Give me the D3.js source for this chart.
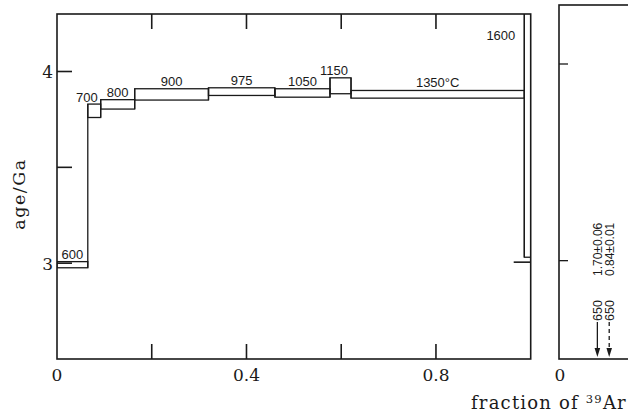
<!DOCTYPE html>
<html>
<head>
<meta charset="utf-8">
<script src="https://cdn.jsdelivr.net/npm/d3@7"></script>
<style>
	body { margin: 0; background: #fff; }
	.step-label { font-family: "Liberation Sans", Arial, sans-serif; font-size: 13px; fill: #1a1a1a; }
	.tick-label { font-family: "DejaVu Serif", serif; font-size: 17px; fill: #1a1a1a; }
	.axis-title { font-family: "DejaVu Serif", serif; fill: #1a1a1a; }
</style>
</head>
<body>
<div id="wrapper"></div>
<script>

// 1. Data

const stepTemps = ["600", "700", "800", "900", "975", "1050", "1150", "1350°C", "1600"];
const stepEdges = [0, 0.065, 0.0922, 0.164, 0.3198, 0.460, 0.5763, 0.6207, 0.9865, 1.0];
const ageHigh = [3.008, 3.830, 3.853, 3.910, 3.915, 3.910, 3.967, 3.901, 4.45];
const ageLow  = [2.976, 3.760, 3.804, 3.851, 3.875, 3.866, 3.884, 3.861, 3.031];

const xTicks = [0, 0.2, 0.4, 0.6, 0.8];
const xTickLabels = ["0", "", "0.4", "", "0.8"];
const yTicks = [3, 3.5, 4];
const yTickLabels = ["3", "", "4"];

// second panel: only the release markers are visible
const arrowTemps = ["650", "650"];
const arrowFractions = [0.081, 0.106];
const arrowAges = ["1.70±0.06", "0.84±0.01"];
const arrowDashed = [false, true];

function drawChart () {

	// 2. Dimensions

	let dimensions = {
		width: 628,
		height: 415,
		panel: { left: 57, right: 530.7, top: 14, bottom: 359 },
		panel2: { left: 559, top: 5, bottom: 359 }
	};

	const xScale = d3.scaleLinear()
						.domain([0, 1])
						.range([dimensions.panel.left, dimensions.panel.right]);

	const yScale = d3.scaleLinear()
						.domain([2.5, 4.3])
						.range([dimensions.panel.bottom, dimensions.panel.top]);

	const pxPerUnit = dimensions.panel.right - dimensions.panel.left;
	const x2Scale = d3.scaleLinear()
						.domain([0, 1])
						.range([dimensions.panel2.left, dimensions.panel2.left + pxPerUnit]);

	const y2Scale = d3.scaleLinear()
						.domain([2.5, 4.3])
						.range([dimensions.panel2.bottom, dimensions.panel2.top]);

	const wrapper = d3.select("#wrapper")
						.append("svg")
						.attr("width", dimensions.width)
						.attr("height", dimensions.height);

	const ink = "#1a1a1a";

	const defs = wrapper.append("defs");
	defs.append("clipPath")
		.attr("id", "panel-clip")
		.append("rect")
		.attr("x", dimensions.panel.left)
		.attr("y", dimensions.panel.top)
		.attr("width", dimensions.panel.right - dimensions.panel.left)
		.attr("height", dimensions.panel.bottom - dimensions.panel.top);

	// 3. Steps of the age spectrum

	const steps = stepTemps.map((t, i) => ({
		temp: t,
		x0: stepEdges[i],
		x1: stepEdges[i + 1],
		hi: ageHigh[i],
		lo: ageLow[i]
	}));

	const plot = wrapper.append("g")
						.attr("clip-path", "url(#panel-clip)");

	plot.selectAll(".step")
		.data(steps)
		.join("rect")
		.attr("class", "step")
		.attr("x", d => xScale(d.x0))
		.attr("y", d => yScale(d.hi))
		.attr("width", d => xScale(d.x1) - xScale(d.x0))
		.attr("height", d => yScale(d.lo) - yScale(d.hi))
		.attr("fill", "none")
		.attr("stroke", ink)
		.attr("stroke-width", 1.3);

	// vertical joins between neighbouring steps
	const joins = d3.range(1, steps.length).map(i => ({
		x: steps[i].x0,
		top: d3.max([steps[i - 1].hi, steps[i].hi]),
		bottom: d3.min([steps[i - 1].lo, steps[i].lo])
	}));

	plot.selectAll(".join")
		.data(joins)
		.join("line")
		.attr("class", "join")
		.attr("x1", d => xScale(d.x))
		.attr("x2", d => xScale(d.x))
		.attr("y1", d => yScale(d.top))
		.attr("y2", d => yScale(d.bottom))
		.attr("stroke", ink)
		.attr("stroke-width", 1.3);

	// temperature labels
	const labels = wrapper.selectAll(".step-label")
		.data(steps)
		.join("text")
		.attr("class", "step-label")
		.text(d => d.temp);

	labels.each(function (d) {
		const label = d3.select(this);
		const w = this.getComputedTextLength();
		const bx0 = xScale(d.x0), bx1 = xScale(d.x1);
		if (d.temp == "1600") {
			label.attr("x", bx0 - 9).attr("y", dimensions.panel.top + 26).attr("text-anchor", "end");
		} else if (w > bx1 - bx0 + 4) {
			label.attr("x", bx1 - 3).attr("y", yScale(d.hi) - 2.5).attr("text-anchor", "end");
		} else {
			label.attr("x", (bx0 + bx1) / 2).attr("y", yScale(d.hi) - 3).attr("text-anchor", "middle");
		}
	});

	// 4. Frame and ticks of the left panel

	const frame = wrapper.append("g");

	frame.append("rect")
		.attr("x", dimensions.panel.left)
		.attr("y", dimensions.panel.top)
		.attr("width", dimensions.panel.right - dimensions.panel.left)
		.attr("height", dimensions.panel.bottom - dimensions.panel.top)
		.attr("fill", "none")
		.attr("stroke", ink)
		.attr("stroke-width", 1.6);

	const tickLength = 15;

	frame.selectAll(".x-tick-bottom")
		.data(xTicks.filter(d => d > 0))
		.join("line")
		.attr("x1", d => xScale(d))
		.attr("x2", d => xScale(d))
		.attr("y1", dimensions.panel.bottom)
		.attr("y2", dimensions.panel.bottom - tickLength)
		.attr("stroke", ink)
		.attr("stroke-width", 1.6);

	frame.selectAll(".x-tick-top")
		.data(xTicks.filter(d => d > 0))
		.join("line")
		.attr("x1", d => xScale(d))
		.attr("x2", d => xScale(d))
		.attr("y1", dimensions.panel.top)
		.attr("y2", dimensions.panel.top + tickLength)
		.attr("stroke", ink)
		.attr("stroke-width", 1.6);

	frame.selectAll(".y-tick-left")
		.data(yTicks)
		.join("line")
		.attr("x1", dimensions.panel.left)
		.attr("x2", dimensions.panel.left + tickLength)
		.attr("y1", d => yScale(d))
		.attr("y2", d => yScale(d))
		.attr("stroke", ink)
		.attr("stroke-width", 1.6);

	frame.append("line")
		.attr("x1", dimensions.panel.right)
		.attr("x2", dimensions.panel.right - 17)
		.attr("y1", yScale(3) - 1)
		.attr("y2", yScale(3) - 1)
		.attr("stroke", ink)
		.attr("stroke-width", 1.6);

	frame.selectAll(".x-label")
		.data(xTicks)
		.join("text")
		.attr("class", "tick-label")
		.attr("x", d => xScale(d))
		.attr("y", dimensions.panel.bottom + 22)
		.attr("text-anchor", "middle")
		.text((d, i) => xTickLabels[i]);

	frame.selectAll(".y-label")
		.data(yTicks)
		.join("text")
		.attr("class", "tick-label")
		.attr("x", dimensions.panel.left - 4)
		.attr("y", d => yScale(d) + 6.5)
		.attr("text-anchor", "end")
		.text((d, i) => yTickLabels[i]);

	wrapper.append("text")
		.attr("class", "axis-title")
		.attr("transform", `translate(25, ${194}) rotate(-90)`)
		.attr("text-anchor", "middle")
		.style("font-size", "17.5px")
		.style("letter-spacing", "1.5px")
		.text("age/Ga");

	const xTitle = wrapper.append("text")
		.attr("class", "axis-title")
		.attr("x", 471)
		.attr("y", 409)
		.style("font-size", "18px")
		.style("letter-spacing", "1.2px");
	xTitle.append("tspan").text("fraction of ");
	xTitle.append("tspan")
		.attr("dy", -6)
		.style("font-size", "11.5px")
		.text("39");
	xTitle.append("tspan")
		.attr("dy", 6)
		.text("Ar");

	// 5. Second panel (cut off at the right edge)

	const panel2 = wrapper.append("g");

	panel2.append("rect")
		.attr("x", dimensions.panel2.left)
		.attr("y", dimensions.panel2.top)
		.attr("width", 200)
		.attr("height", dimensions.panel2.bottom - dimensions.panel2.top)
		.attr("fill", "none")
		.attr("stroke", ink)
		.attr("stroke-width", 1.6);

	panel2.selectAll(".y2-tick")
		.data([3, 4])
		.join("line")
		.attr("x1", dimensions.panel2.left)
		.attr("x2", dimensions.panel2.left + 9)
		.attr("y1", d => y2Scale(d))
		.attr("y2", d => y2Scale(d))
		.attr("stroke", ink)
		.attr("stroke-width", 1.3);

	panel2.append("text")
		.attr("class", "tick-label")
		.attr("x", x2Scale(0) + 1)
		.attr("y", dimensions.panel2.bottom + 22)
		.attr("text-anchor", "middle")
		.text("0");

	const arrows = arrowTemps.map((t, i) => ({
		temp: t,
		fraction: arrowFractions[i],
		age: arrowAges[i],
		dashed: arrowDashed[i]
	}));

	const arrowGroups = panel2.selectAll(".arrow")
		.data(arrows)
		.join("g")
		.attr("class", "arrow")
		.attr("transform", d => `translate(${x2Scale(d.fraction)}, 0)`);

	const arrowTip = dimensions.panel2.bottom - 2;

	arrowGroups.append("line")
		.attr("x1", 0)
		.attr("x2", 0)
		.attr("y1", 322)
		.attr("y2", arrowTip - 6)
		.attr("stroke", ink)
		.attr("stroke-width", 1.3)
		.attr("stroke-dasharray", d => d.dashed ? "4,3" : null);

	arrowGroups.append("path")
		.attr("d", `M-2.8,${arrowTip - 9} L2.8,${arrowTip - 9} L0,${arrowTip} Z`)
		.attr("fill", ink);

	arrowGroups.append("text")
		.attr("class", "step-label")
		.attr("transform", "translate(0, 321) rotate(-90)")
		.attr("dy", "0.36em")
		.style("font-size", "12.5px")
		.text(d => d.temp);

	arrowGroups.append("text")
		.attr("class", "step-label")
		.attr("transform", "translate(0, 276) rotate(-90)")
		.attr("dy", "0.36em")
		.style("font-size", "12px")
		.text(d => d.age);
}

drawChart();
</script>
</body>
</html>
